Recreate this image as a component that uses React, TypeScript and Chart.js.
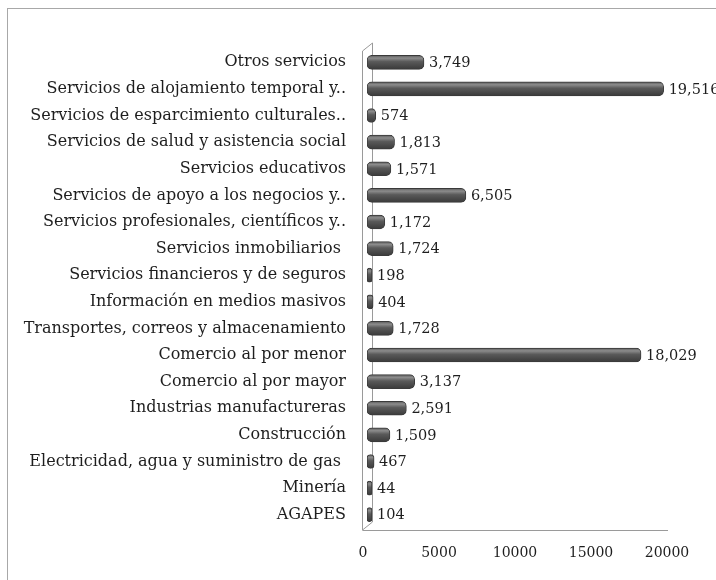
import React, { useEffect, useRef } from "react";
import { Chart, registerables } from "chart.js";

Chart.register(...registerables);

const categories: string[] = [
  "Otros servicios",
  "Servicios de alojamiento temporal y..",
  "Servicios de esparcimiento culturales..",
  "Servicios de salud y asistencia social",
  "Servicios educativos",
  "Servicios de apoyo a los negocios y..",
  "Servicios profesionales, científicos y..",
  "Servicios inmobiliarios ",
  "Servicios financieros y de seguros",
  "Información en medios masivos",
  "Transportes, correos y almacenamiento",
  "Comercio al por menor",
  "Comercio al por mayor",
  "Industrias manufactureras",
  "Construcción",
  "Electricidad, agua y suministro de gas ",
  "Minería",
  "AGAPES",
];

const values: number[] = [
  3749, 19516, 574, 1813, 1571, 6505, 1172, 1724, 198, 404, 1728, 18029, 3137,
  2591, 1509, 467, 44, 104,
];

const xTicks: number[] = [0, 5000, 10000, 15000, 20000];

const FONT = "'DejaVu Serif', 'Liberation Serif', serif";

export default function App() {
  const ref = useRef<HTMLCanvasElement | null>(null);

  useEffect(() => {
    if (!ref.current) return;

    const deco = {
      id: "deco",
      beforeDraw(chart: any) {
        const { ctx } = chart;
        ctx.save();
        ctx.fillStyle = "#ffffff";
        ctx.fillRect(0, 0, chart.width, chart.height);
        ctx.strokeStyle = "#a8a8a8";
        ctx.lineWidth = 1;
        ctx.strokeRect(7.5, 8.5, 900, 800);
        ctx.restore();
      },
      beforeDatasetsDraw(chart: any) {
        const { ctx, chartArea } = chart;
        const x = chart.scales.x;
        const fx = Math.round(x.getPixelForValue(0)) - 4.5;
        const bx = fx + 10;
        const top = chartArea.top;
        const bottom = chartArea.bottom;
        const fEnd = x.getPixelForValue(20000) - 3;
        ctx.save();
        ctx.strokeStyle = "#9a9a9a";
        ctx.lineWidth = 1;
        ctx.beginPath();
        ctx.moveTo(fx, bottom + 2);
        ctx.lineTo(fx, top + 2);
        ctx.lineTo(bx, top - 6);
        ctx.lineTo(bx, bottom - 6);
        ctx.lineTo(fx, bottom + 2);
        ctx.moveTo(fx, bottom + 2.5);
        ctx.lineTo(fEnd, bottom + 2.5);
        ctx.stroke();
        ctx.restore();
      },
      afterDatasetsDraw(chart: any) {
        const { ctx } = chart;
        const meta = chart.getDatasetMeta(0);
        ctx.save();
        ctx.fillStyle = "#1e1e1e";
        ctx.font = `14.5px ${FONT}`;
        ctx.textAlign = "left";
        ctx.textBaseline = "middle";
        meta.data.forEach((bar: any, i: number) => {
          const v = values[i];
          ctx.fillText(v.toLocaleString("en-US"), bar.x + 5, bar.y + 1);
        });
        ctx.restore();
      },
    };

    const barFill = (c: any) => {
      const chart = c.chart;
      const ys = chart.scales && chart.scales.y;
      if (!ys || !chart.chartArea || c.dataIndex === undefined) return "#4e4e4e";
      const y = ys.getPixelForValue(c.dataIndex);
      const g = chart.ctx.createLinearGradient(0, y - 7, 0, y + 7);
      g.addColorStop(0, "#5a5a5a");
      g.addColorStop(0.2, "#8c8c8c");
      g.addColorStop(0.45, "#5a5a5a");
      g.addColorStop(1, "#3a3a3a");
      return g;
    };

    const chart = new Chart(ref.current, {
      type: "bar",
      data: {
        labels: categories,
        datasets: [
          {
            data: values,
            backgroundColor: barFill,
            borderColor: "#3a3a3a",
            borderWidth: 1,
            borderRadius: 5,
            borderSkipped: false,
            barThickness: 14,
            minBarLength: 5,
          },
        ],
      },
      options: {
        indexAxis: "y",
        animation: false,
        responsive: false,
        maintainAspectRatio: false,
        layout: { padding: { top: 49, right: 45, left: 0, bottom: 0 } },
        plugins: {
          legend: { display: false },
          tooltip: { enabled: false },
          title: { display: false },
        },
        scales: {
          x: {
            type: "linear",
            min: xTicks[0],
            max: xTicks[xTicks.length - 1],
            afterBuildTicks: (scale: any) => {
              scale.ticks = xTicks.map((v) => ({ value: v }));
            },
            afterFit: (scale: any) => {
              scale.height = 52;
            },
            grid: { display: false, drawTicks: false },
            border: { display: false },
            ticks: {
              padding: 17,
              labelOffset: -4,
              color: "#1e1e1e",
              font: { family: FONT, size: 14 },
              callback: (v: any) => String(v),
              maxRotation: 0,
            },
          },
          y: {
            afterFit: (scale: any) => {
              scale.width = 367;
            },
            grid: { display: false, drawTicks: false },
            border: { display: false },
            ticks: {
              padding: 21,
              color: "#1e1e1e",
              font: { family: FONT, size: 16 },
              autoSkip: false,
            },
          },
        },
      },
      plugins: [deco],
    });

    return () => chart.destroy();
  }, []);

  return (
    <div style={{ position: "absolute", left: 0, top: 0, width: 716, height: 580 }}>
      <canvas ref={ref} width={716} height={580} style={{ width: 716, height: 580, display: "block" }} />
    </div>
  );
}
